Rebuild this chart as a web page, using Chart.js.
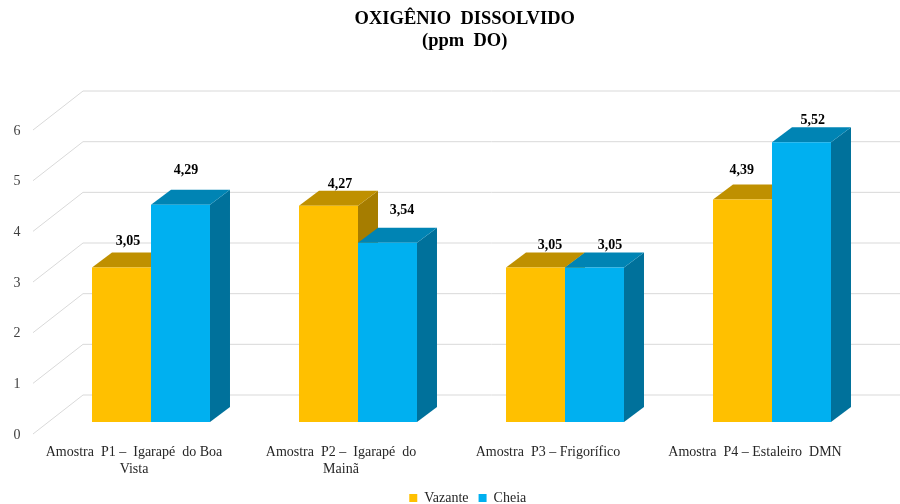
<!DOCTYPE html>
<html><head><meta charset="utf-8">
<style>html,body{margin:0;padding:0;background:#fff}canvas{display:block}</style>
<script src="https://cdn.jsdelivr.net/npm/chart.js@4"></script>
</head><body>
<canvas id="c" width="900" height="504"></canvas>
<script>
const categories = [
  ['Amostra  P1 –  Igarapé  do Boa','Vista'],
  ['Amostra  P2 –  Igarapé  do','Mainã'],
  ['Amostra  P3 – Frigorífico'],
  ['Amostra  P4 – Estaleiro  DMN']
];
const vazante = [3.05, 4.27, 3.05, 4.39];
const cheia = [4.29, 3.54, 3.05, 5.52];
const yTicks = [0, 1, 2, 3, 4, 5, 6];
const titleLines = ['OXIGÊNIO  DISSOLVIDO', '(ppm  DO)'];

const SERIF = '"Liberation Serif", "Times New Roman", serif';
const BAR_DEPTH = {x: 20, y: 15};
const WALL = {frontX: 33, backX: 83, frontDy: 12, backDy: -27};
const shades = [{top: '#BF9000', side: '#A67D00'}, {top: '#0084B4', side: '#00719B'}];
const labelNudge = [
  [[6.5, -11.5], [11.5, -6.6], [14.5, -7.5], [-0.8, -14.6]],
  [[5.5, -19.6], [14.5, -17.6], [15.5, -7.5], [11.2, -7.3]]
];

const grid3d = {
  id: 'grid3d',
  afterLayout(chart) {
    const move = (box, dx, dy) => {
      box.left += dx; box.right += dx; box.top += dy; box.bottom += dy;
    };
    move(chart.titleBlock, 27, 0);
    move(chart.legend, 30, -5);
  },
  beforeDatasetsDraw(chart) {
    const ctx = chart.ctx, y = chart.scales.y;
    ctx.save();
    ctx.strokeStyle = '#D9D9D9';
    ctx.lineWidth = 1;
    y.ticks.forEach(t => {
      const p = y.getPixelForValue(t.value);
      ctx.beginPath();
      ctx.moveTo(WALL.frontX, p + WALL.frontDy);
      ctx.lineTo(WALL.backX, p + WALL.backDy);
      ctx.lineTo(chart.width, p + WALL.backDy);
      ctx.stroke();
    });
    ctx.restore();
    // 3D faces: left series first so the right series overlaps it
    const dx = BAR_DEPTH.x, dy = BAR_DEPTH.y;
    ctx.save();
    chart.data.datasets.forEach((ds, i) => {
      const c = shades[i];
      chart.getDatasetMeta(i).data.forEach(b => {
        const l = b.x - b.width / 2, r = b.x + b.width / 2;
        ctx.fillStyle = c.side;
        ctx.beginPath();
        ctx.moveTo(r, b.y); ctx.lineTo(r + dx, b.y - dy);
        ctx.lineTo(r + dx, b.base - dy); ctx.lineTo(r, b.base);
        ctx.closePath(); ctx.fill();
        ctx.fillStyle = c.top;
        ctx.beginPath();
        ctx.moveTo(l, b.y); ctx.lineTo(l + dx, b.y - dy);
        ctx.lineTo(r + dx, b.y - dy); ctx.lineTo(r, b.y);
        ctx.closePath(); ctx.fill();
      });
    });
    ctx.restore();
  },
  afterDatasetsDraw(chart) {
    const ctx = chart.ctx;
    ctx.save();
    ctx.font = 'bold 14px ' + SERIF;
    ctx.fillStyle = '#000';
    ctx.textAlign = 'center';
    ctx.textBaseline = 'middle';
    chart.data.datasets.forEach((ds, i) => {
      chart.getDatasetMeta(i).data.forEach((b, j) => {
        const n = labelNudge[i][j];
        ctx.fillText(ds.data[j].toFixed(2).replace('.', ','), b.x + n[0], b.y - BAR_DEPTH.y + n[1]);
      });
    });
    ctx.restore();
  }
};

new Chart(document.getElementById('c'), {
  type: 'bar',
  data: {
    labels: categories,
    datasets: [
      {label: 'Vazante', data: vazante, backgroundColor: '#FFC000'},
      {label: 'Cheia', data: cheia, backgroundColor: '#00B0F0'}
    ]
  },
  plugins: [grid3d],
  options: {
    responsive: false,
    animation: false,
    layout: {padding: {left: 0, right: 24.5, top: 0, bottom: -16}},
    categoryPercentage: 0.57,
    barPercentage: 1,
    scales: {
      x: {
        grid: {display: false, drawTicks: false},
        border: {display: false},
        ticks: {
          font: {family: SERIF, size: 14},
          color: '#262626',
          autoSkip: false,
          maxRotation: 0,
          padding: 22,
          labelOffset: -17
        },
        afterFit(s) { s.height = 64; }
      },
      y: {
        min: 0, max: 6,
        afterBuildTicks(s) { s.ticks = yTicks.map(v => ({value: v})); },
        grid: {display: false, drawTicks: false},
        border: {display: false},
        ticks: {
          font: {family: SERIF, size: 14},
          color: '#404040',
          padding: 27,
          labelOffset: 13
        },
        afterFit(s) { s.width = 47.5; }
      }
    },
    plugins: {
      tooltip: {enabled: false},
      title: {
        display: true,
        text: titleLines,
        color: '#000',
        font: {family: SERIF, size: 18.5, weight: 'bold', lineHeight: 1.19},
        padding: {top: 8, bottom: 66}
      },
      legend: {
        position: 'bottom',
        labels: {
          boxWidth: 8, boxHeight: 8, padding: 10,
          color: '#262626',
          font: {family: SERIF, size: 14}
        }
      }
    }
  }
});
</script>
</body></html>
